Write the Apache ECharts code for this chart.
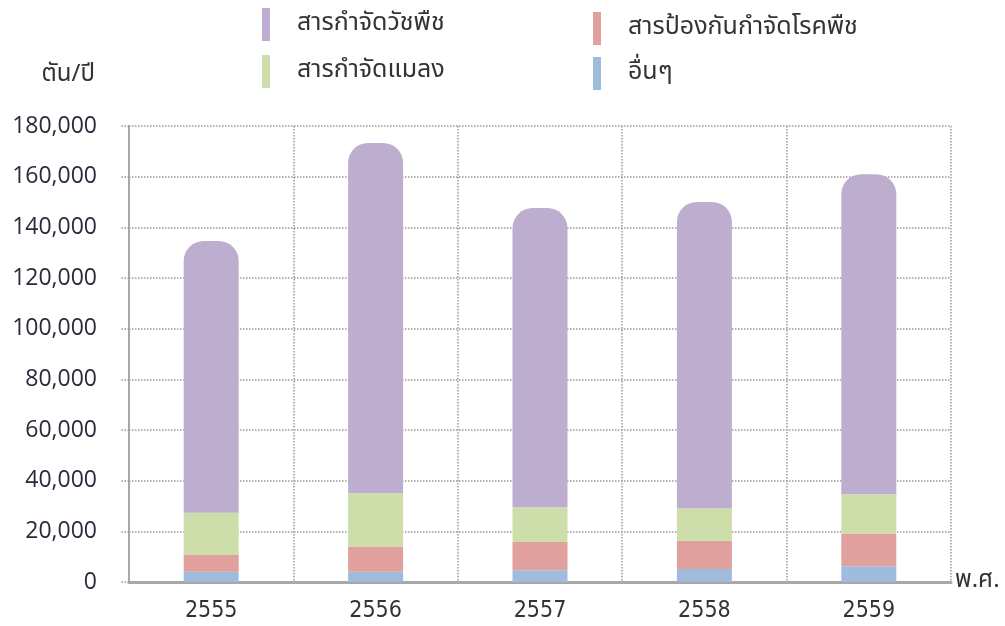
<!DOCTYPE html>
<html lang="th">
<head>
  <meta charset="UTF-8">
  <title>ปริมาณการนำเข้าสารเคมีกำจัดศัตรูพืช</title>
  <script src="https://cdn.jsdelivr.net/npm/echarts@6.0.0/dist/echarts.min.js"></script>
  <style>
    body { margin: 0; background: #fff; }
    #chart { width: 1005px; height: 626px; }
  </style>
</head>
<body>
  <div id="chart"></div>
  <script>
    // ข้อมูล (ตัน/ปี)
    const years = ['2555', '2556', '2557', '2558', '2559'];
    const seriesNames = ['สารกำจัดวัชพืช', 'สารป้องกันกำจัดโรคพืช', 'สารกำจัดแมลง', 'อื่นๆ'];
    const otherVals = [4000, 4000, 4650, 5150, 6200];
    const fungicideVals = [6700, 10050, 11100, 11100, 12900];
    const insecticideVals = [16650, 21050, 13800, 12750, 15500];
    const herbicideVals = [107250, 138200, 118050, 121000, 126400];
    const yTicks = [0, 20000, 40000, 60000, 80000, 100000, 120000, 140000, 160000, 180000];

    const colors = {
      herb: '#BDAED0',
      fung: '#E0A09D',
      insect: '#CEDEAA',
      other: '#9FBCDC'
    };

    const thaiFont = '"Noto Sans Thai", "Noto Sans", "DejaVu Sans", sans-serif';
    const numFont = '"Open Sans", "Noto Sans", sans-serif';
    const narrowFont = '"DejaVu Sans Condensed", "Liberation Sans Narrow", "Noto Sans", sans-serif';

    const chart = echarts.init(document.getElementById('chart'));

    const legendText = { fontSize: 25, color: '#333', fontFamily: thaiFont, padding: [0, 0, 0, 22] };

    const option = {
      animation: false,
      legend: [
        {
          orient: 'vertical', left: 257, top: 3,
          data: [seriesNames[0], seriesNames[2]],
          icon: 'rect', itemWidth: 8, itemHeight: 33, itemGap: 14,
          textStyle: legendText, selectedMode: false
        },
        {
          orient: 'vertical', left: 588, top: 7,
          data: [seriesNames[1], seriesNames[3]],
          icon: 'rect', itemWidth: 8, itemHeight: 33, itemGap: 12,
          textStyle: legendText, selectedMode: false
        }
      ],
      grid: { left: 129, right: 54, top: 126, bottom: 44 },
      xAxis: {
        type: 'category',
        data: years,
        name: 'พ.ศ.',
        nameLocation: 'end',
        nameGap: 4,
        nameTextStyle: { fontSize: 24, color: '#333', fontFamily: thaiFont, verticalAlign: 'middle', padding: [6, 0, 0, 0] },
        axisLine: { lineStyle: { color: '#a8a8a8', width: 3 } },
        axisTick: { show: false },
        axisLabel: { fontSize: 23, color: '#333', margin: 18, fontFamily: narrowFont },
        splitLine: { show: true, lineStyle: { type: 'dotted', color: '#9a9a9a', width: 1.5 } }
      },
      yAxis: {
        type: 'value',
        min: 0,
        max: 180000,
        interval: 20000,
        name: 'ตัน/ปี',
        nameLocation: 'end',
        nameGap: 38,
        nameTextStyle: { fontSize: 24, color: '#333', fontFamily: thaiFont, align: 'right', padding: [0, 34, 0, 0] },
        axisLine: { show: true, lineStyle: { color: '#a8a8a8', width: 2 } },
        axisTick: { show: true, length: 9, lineStyle: { type: 'dotted', color: '#9a9a9a', width: 1.5 } },
        axisLabel: {
          fontSize: 23, color: '#2a2a3a', margin: 32, fontFamily: numFont,
          formatter: v => yTicks.includes(v) ? v.toLocaleString('en-US') : ''
        },
        splitLine: { lineStyle: { type: 'dotted', color: '#9a9a9a', width: 1.5 } }
      },
      series: [
        {
          name: seriesNames[3], type: 'bar', stack: 'total', barWidth: 55,
          data: otherVals, itemStyle: { color: colors.other }
        },
        {
          name: seriesNames[1], type: 'bar', stack: 'total', barWidth: 55,
          data: fungicideVals, itemStyle: { color: colors.fung }
        },
        {
          name: seriesNames[2], type: 'bar', stack: 'total', barWidth: 55,
          data: insecticideVals, itemStyle: { color: colors.insect }
        },
        {
          name: seriesNames[0], type: 'bar', stack: 'total', barWidth: 55,
          data: herbicideVals, itemStyle: { color: colors.herb, borderRadius: [20, 20, 0, 0] }
        }
      ]
    };

    chart.setOption(option);
    window.addEventListener('resize', () => chart.resize());
  </script>
</body>
</html>
